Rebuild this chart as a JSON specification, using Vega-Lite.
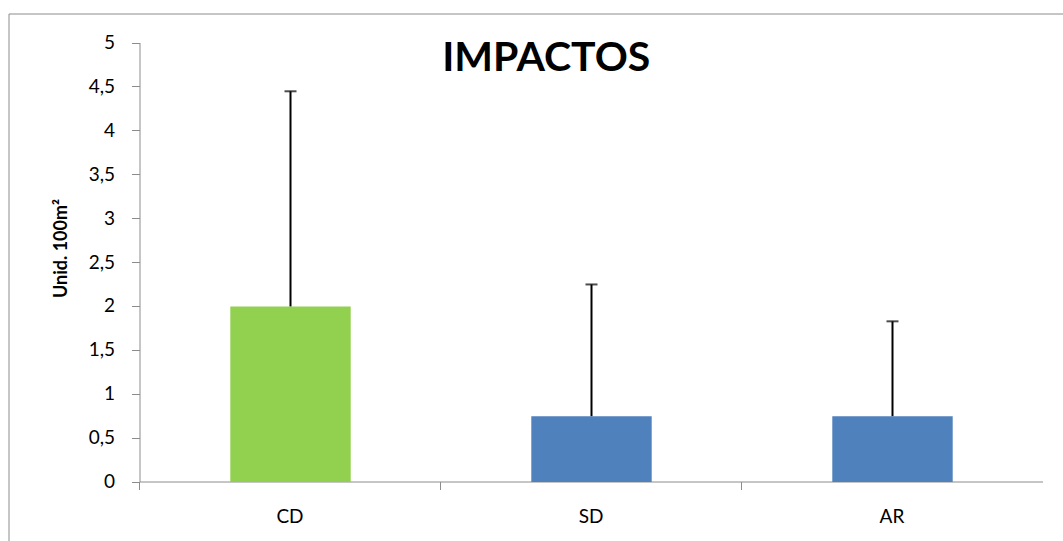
{
  "$schema": "https://vega.github.io/schema/vega-lite/v6.json",
  "autosize": "none",
  "width": 1055.5,
  "height": 528.5,
  "padding": {"left": 8.5, "top": 13.5, "right": -1, "bottom": -1},
  "background": "white",
  "config": {
    "font": "Lato",
    "view": {"stroke": "#8c8c8c", "strokeWidth": 1},
    "axis": {"translate": 0}
  },
  "title": {
    "text": "IMPACTOS",
    "font": "Lato",
    "fontSize": 41,
    "fontWeight": "bold",
    "color": "#000000",
    "anchor": "middle",
    "frame": "group",
    "baseline": "alphabetic",
    "offset": 0,
    "dy": 98,
    "dx": 10
  },
  "data": {
    "values": [
      {"cat": "CD", "value": 2.0, "upper": 4.45},
      {"cat": "SD", "value": 0.75, "upper": 2.25},
      {"cat": "AR", "value": 0.75, "upper": 1.83}
    ]
  },
  "encoding": {
    "x": {
      "field": "cat",
      "type": "nominal",
      "sort": ["CD", "SD", "AR"],
      "scale": {"range": [131.5, 1034.5], "paddingInner": 0, "paddingOuter": 0},
      "axis": {
        "title": null,
        "orient": "bottom",
        "offset": -60,
        "bandPosition": 0,
        "domainColor": "#8c8c8c",
        "tickColor": "#8c8c8c",
        "tickSize": 8,
        "labelFontSize": 19,
        "labelColor": "#000000",
        "labelPadding": 18,
        "labelAngle": 0,
        "labelAlign": "center",
        "labelBaseline": "top"
      }
    }
  },
  "layer": [
    {
      "mark": {"type": "bar", "width": {"band": 0.4}},
      "encoding": {
        "y": {
          "field": "value",
          "type": "quantitative",
          "scale": {"domain": [0, 5], "range": [468.5, 29.5], "nice": false, "zero": true},
          "axis": {
            "title": "Unid. 100m²",
            "titleFont": "Lato",
            "titleFontSize": 18,
            "titleFontWeight": "bold",
            "titleColor": "#000000",
            "titlePadding": 18,
            "titleY": 235,
            "offset": -131.5,
            "values": [0, 0.5, 1, 1.5, 2, 2.5, 3, 3.5, 4, 4.5, 5],
            "labelExpr": "replace(format(datum.value, '~g'), '.', ',')",
            "grid": false,
            "domainColor": "#8c8c8c",
            "tickColor": "#8c8c8c",
            "tickSize": 8,
            "labelFontSize": 19,
            "labelColor": "#000000",
            "labelPadding": 17
          }
        },
        "color": {
          "field": "cat",
          "type": "nominal",
          "scale": {"domain": ["CD", "SD", "AR"], "range": ["#92D050", "#4F81BD", "#4F81BD"]},
          "legend": null
        }
      }
    },
    {
      "mark": {"type": "rule", "color": "#000000", "strokeWidth": 2},
      "encoding": {
        "y": {"field": "value", "type": "quantitative"},
        "y2": {"field": "upper"}
      }
    },
    {
      "mark": {"type": "tick", "color": "#000000", "thickness": 2, "size": 12, "orient": "horizontal"},
      "encoding": {
        "y": {"field": "upper", "type": "quantitative"}
      }
    }
  ]
}
